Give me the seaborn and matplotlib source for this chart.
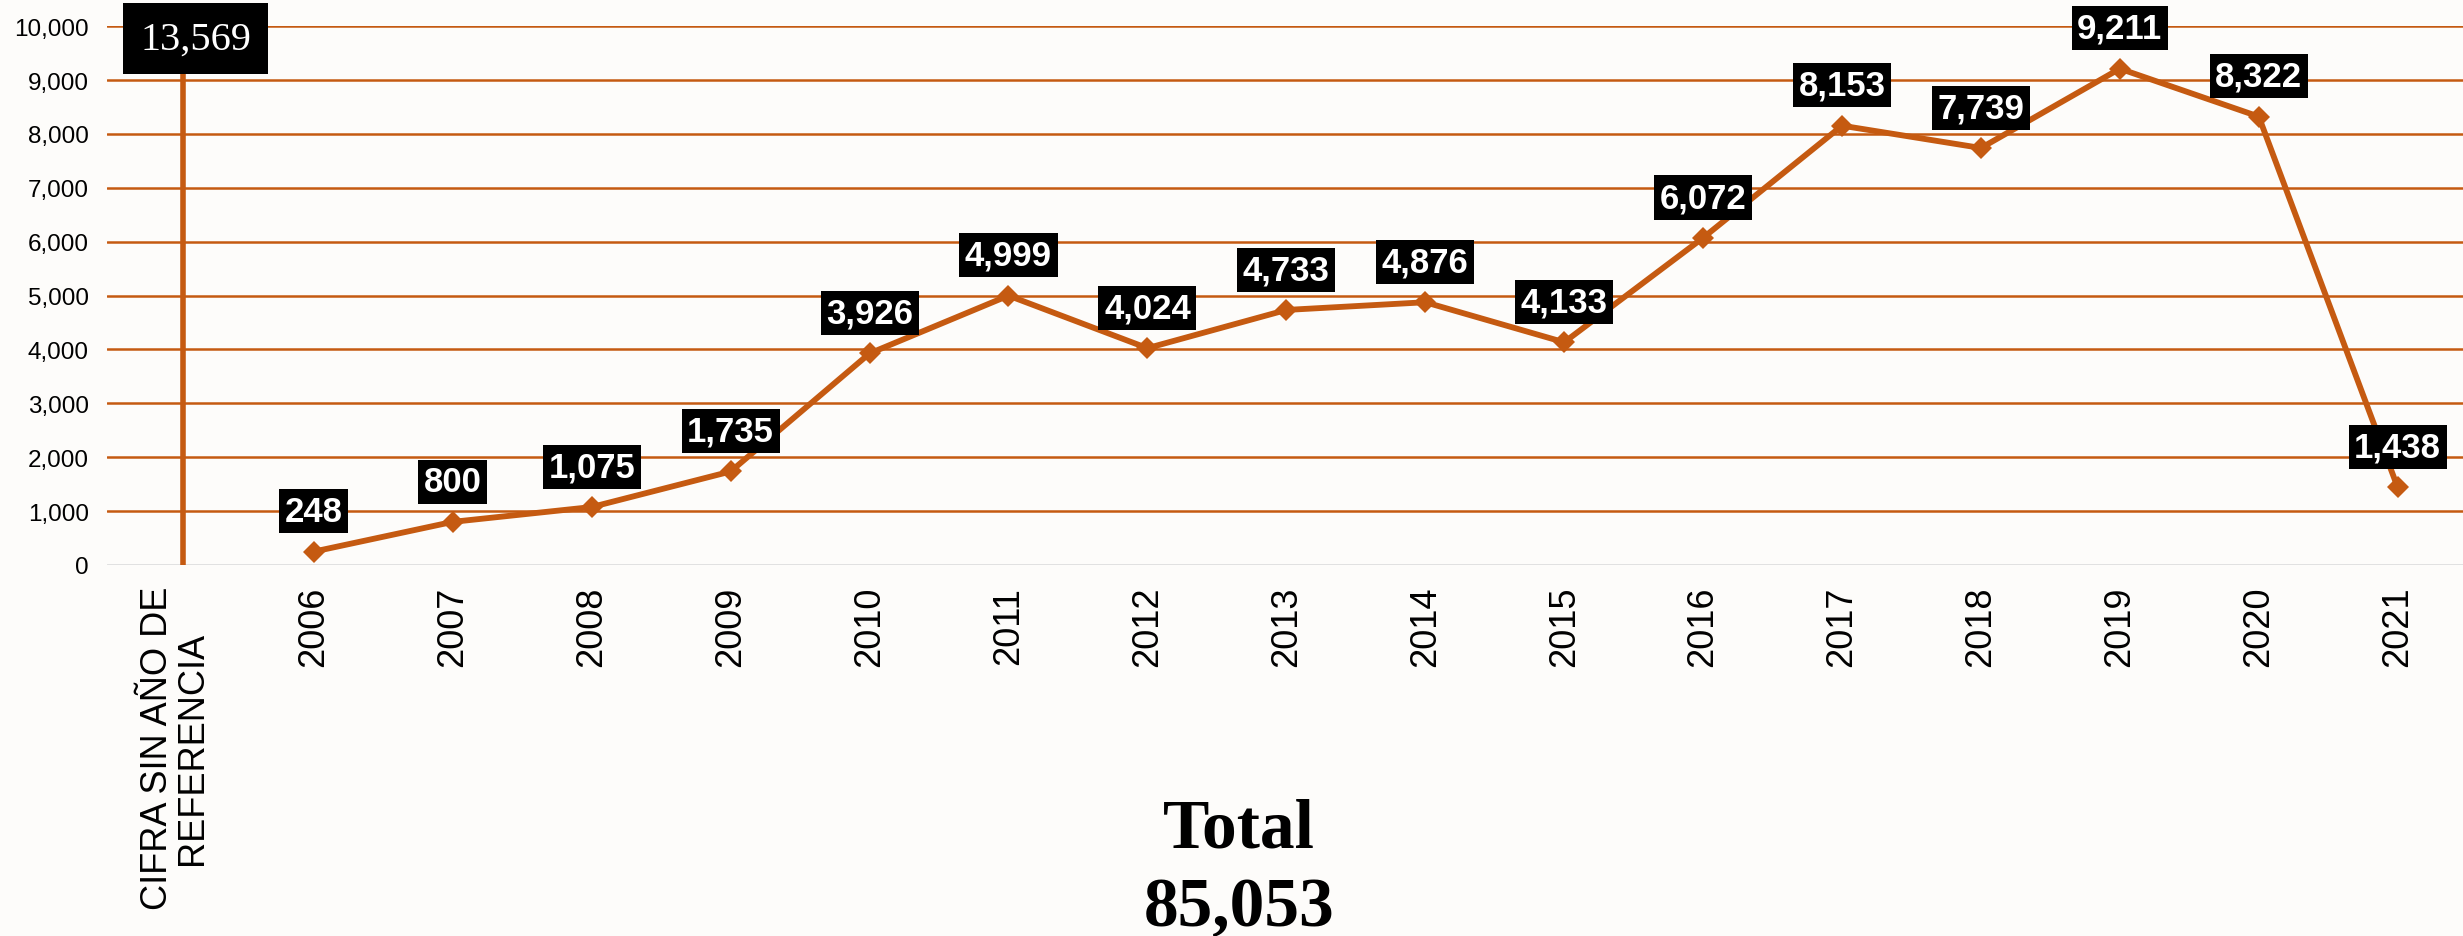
import matplotlib
matplotlib.use("Agg")
import matplotlib.pyplot as plt
import seaborn as sns
import pandas as pd

# ---- data ----
categories = ["CIFRA SIN AÑO DE\nREFERENCIA", "2006", "2007", "2008", "2009", "2010",
              "2011", "2012", "2013", "2014", "2015", "2016", "2017", "2018",
              "2019", "2020", "2021"]
no_year_value = 13569
year_values = [248, 800, 1075, 1735, 3926, 4999, 4024, 4733, 4876, 4133,
               6072, 8153, 7739, 9211, 8322, 1438]
y_ticks = [0, 1000, 2000, 3000, 4000, 5000, 6000, 7000, 8000, 9000, 10000]
total_label = "Total"
total_value = "85,053"

ORANGE = "#C55A11"

sns.set_theme(style="white")
plt.rcParams["font.family"] = ["Liberation Sans", "DejaVu Sans"]

fig = plt.figure(figsize=(24.63, 9.37), dpi=100)
fig.patch.set_facecolor("#FDFCFA")
ax = fig.add_axes([0.0434, 0.396, 0.9566, 0.575])
ax.set_facecolor("none")

df = pd.DataFrame({"pos": list(range(1, len(categories))), "value": year_values})

# vertical "no year" line (value exceeds axis range), slightly right of its tick
bar_x = 0 + 0.06
ax.plot([bar_x, bar_x], [0, no_year_value], color=ORANGE, lw=4.0,
        solid_capstyle="butt", zorder=3, clip_on=True)

sns.lineplot(data=df, x="pos", y="value", ax=ax, color=ORANGE, lw=4.2,
             marker="D", markersize=11, markeredgewidth=0, zorder=4)

ax.set_xlim(-0.49, 16.47)
ax.set_ylim(0, 10000)
ax.set_yticks(y_ticks)
ax.set_yticklabels([f"{v:,}" for v in y_ticks], fontsize=17.5, color="black")
ax.set_xticks(range(len(categories)))
ax.set_xticklabels(categories, rotation=90, fontsize=26, color="black",
                   ha="center", va="top", linespacing=1.0, multialignment="center")
ax.tick_params(axis="y", length=0, pad=13)
ax.tick_params(axis="x", length=0, pad=15)
ax.set_xlabel("")
ax.set_ylabel("")
for s in ax.spines.values():
    s.set_visible(False)

ax.yaxis.grid(True, color=ORANGE, lw=1.8)
ax.xaxis.grid(False)
ax.set_axisbelow(True)
ax.get_ygridlines()[0].set_color("#D9D9D9")

# value labels
for x, v in zip(df["pos"], df["value"]):
    ax.annotate(f"{v:,}", xy=(x, v), xytext=(0, 29), textcoords="offset points",
                ha="center", va="center", fontsize=25, fontweight="bold",
                color="white", zorder=6,
                bbox=dict(boxstyle="square,pad=0.16", fc="black", ec="none"))

ax.annotate(f"{no_year_value:,}", xy=(bar_x, 10000), xytext=(9, -9),
            textcoords="offset points", ha="center", va="center",
            fontsize=29, color="white", family=["Liberation Serif", "DejaVu Serif"],
            zorder=6, annotation_clip=False,
            bbox=dict(boxstyle="square,pad=0.42", fc="black", ec="none"))

fig.text(0.503, 0.114, total_label, ha="center", va="center", fontsize=50,
         fontweight="bold", family=["Liberation Serif", "DejaVu Serif"], color="black")
fig.text(0.503, 0.030, total_value, ha="center", va="center", fontsize=50,
         fontweight="bold", family=["Liberation Serif", "DejaVu Serif"], color="black")

fig.savefig("out.png", dpi=100, facecolor=fig.get_facecolor())
